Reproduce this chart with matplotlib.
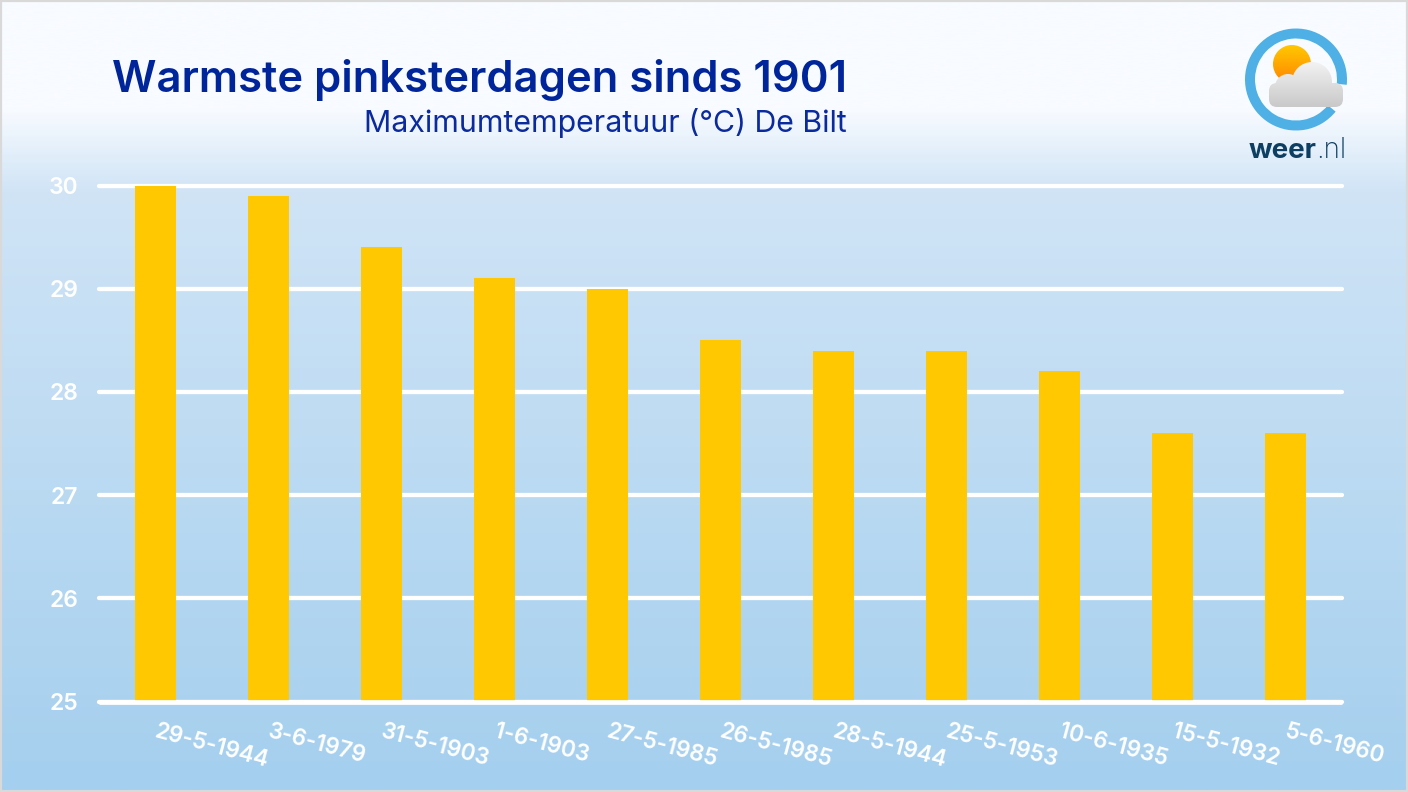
import numpy as np
import matplotlib
matplotlib.use('Agg')
import matplotlib.pyplot as plt
from matplotlib.colors import LinearSegmentedColormap
from matplotlib.patches import Circle, Wedge, FancyBboxPatch, Rectangle
from matplotlib.transforms import ScaledTranslation

plt.rcParams['font.family'] = ['Inter', 'DejaVu Sans']

dates = ['29-5-1944', '3-6-1979', '31-5-1903', '1-6-1903', '27-5-1985', '26-5-1985',
         '28-5-1944', '25-5-1953', '10-6-1935', '15-5-1932', '5-6-1960']
temps = [30.0, 29.9, 29.4, 29.1, 29.0, 28.5, 28.4, 28.4, 28.2, 27.6, 27.6]
yticks = [25, 26, 27, 28, 29, 30]

W, H = 1408, 792
fig = plt.figure(figsize=(W / 100, H / 100), dpi=100)

# background layer works in pixels, y pointing down like the picture
bg = fig.add_axes([0, 0, 1, 1])
bg.set_axis_off()
sky = LinearSegmentedColormap.from_list('sky', [(0, '#f8fbff'), (0.135, '#f8fbff'), (0.24, '#d0e4f6'),
                                                (1, '#a4cfee')])
bg.imshow(np.linspace(0, 1, 400).reshape(-1, 1), cmap=sky, extent=(0, W, H, 0), aspect='auto', zorder=0)
bg.add_patch(Rectangle((0.5, 0.5), W - 1.5, H - 1.5, fill=False, ec='#d9d9d9', lw=1.6, zorder=1))

bg.text(112, 92, 'Warmste pinksterdagen sinds 1901', color='#00259b', fontsize=31.4, fontweight='semibold')
bg.text(847, 132, 'Maximumtemperatuur (°C) De Bilt', color='#0a2a9e', fontsize=21.8, ha='right')


# logo
def gradient(patch, top, bottom, y0, y1, x0=1240, x1=1350):
    bg.add_patch(patch)
    cm = LinearSegmentedColormap.from_list('g', [top, bottom])
    im = bg.imshow(np.linspace(0, 1, 64).reshape(-1, 1), cmap=cm, extent=(x0, x1, y1, y0), aspect='auto', zorder=3)
    im.set_clip_path(patch)


bg.add_patch(Wedge((1296, 79.5), 51, 39, 366, width=10, fc='#4fb0e5', ec='none', zorder=2))
gradient(Circle((1292, 64), 19, fc='none', ec='none'), '#ffc800', '#ff8400', 45, 84)
halo = dict(fc='#f8fbff', ec='#f8fbff', lw=3, zorder=2.5)
for p in [Circle((1312, 82), 20, **halo), Circle((1288, 87), 13, **halo)]:
    bg.add_patch(p)
for p in [Circle((1312, 82), 20, fc='none', ec='none'),
          Circle((1288, 87), 13, fc='none', ec='none'),
          FancyBboxPatch((1277, 91), 58, 8, boxstyle='round,pad=8', fc='none', ec='none')]:
    gradient(p, '#f2f2f2', '#c9c9c9', 62, 107)
bg.text(1249, 158, 'weer', color='#0d3f63', fontsize=20, fontweight='bold')
bg.text(1316, 158, '.nl', color='#0d3f63', fontsize=20, fontweight='light')

bg.set_xlim(0, W)
bg.set_ylim(H, 0)

# the chart itself
ax = fig.add_axes([99 / W, (H - 701.5) / H, 1243 / W, 516 / H])
ax.patch.set_visible(False)
x = np.arange(len(dates))
ax.bar(x, temps, width=0.363, color='#ffc800', zorder=2)
ax.set_xlim(-0.5, len(dates) - 0.5)
ax.set_ylim(25, 30)
ax.set_axisbelow(True)
ax.grid(axis='y', color='white', lw=3.1)
for line in ax.get_ygridlines():
    line.set_clip_on(False)
    line.set_solid_capstyle('round')
for s in ['top', 'left', 'right']:
    ax.spines[s].set_visible(False)
ax.spines['bottom'].set_color('white')
ax.spines['bottom'].set_linewidth(3.4)
ax.spines['bottom'].set_capstyle('butt')
ax.spines['bottom'].set_zorder(3)
ax.set_yticks(yticks)
ax.set_xticks(x)
ax.set_xticklabels(dates, rotation=-15, ha='left', va='top', rotation_mode='anchor')
ax.tick_params(axis='x', length=0, pad=14, labelsize=16.2, labelcolor='white')
ax.tick_params(axis='y', length=0, pad=15, labelsize=16.5, labelcolor='white')
shift = ScaledTranslation(2.5 / 100, 0, fig.dpi_scale_trans)
for lab in ax.get_xticklabels():
    lab.set_transform(lab.get_transform() + shift)
for lab in ax.get_xticklabels() + ax.get_yticklabels():
    lab.set_fontweight('semibold')

fig.savefig('out.png', dpi=100)
